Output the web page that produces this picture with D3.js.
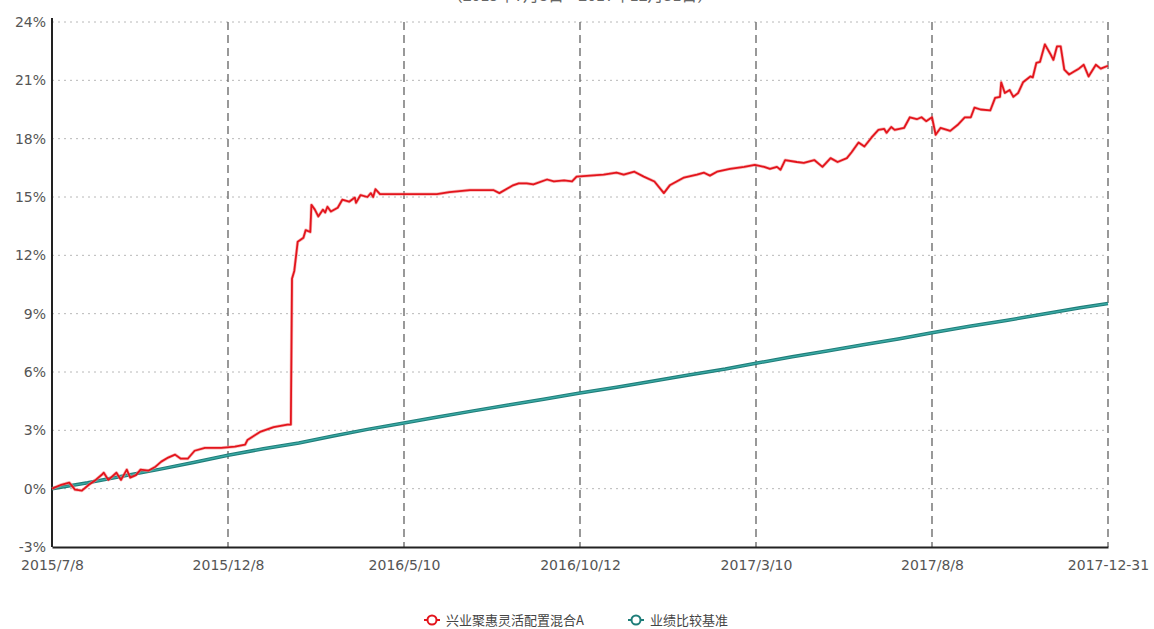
<!DOCTYPE html>
<html><head><meta charset="utf-8">
<script src="https://cdn.jsdelivr.net/npm/d3@7"></script>
<style>
html,body{margin:0;padding:0;background:#fff;}
svg{display:block;}
</style></head>
<body>
<svg id="chart" width="1154" height="629"></svg>
<script>
const titleText = "（2015年7月8日—2017年12月31日）";
const seriesNames = ["兴业聚惠灵活配置混合A", "业绩比较基准"];
const xTickLabels = ["2015/7/8","2015/12/8","2016/5/10","2016/10/12","2017/3/10","2017/8/8","2017-12-31"];
const xTickDates = ["2015-07-08","2015-12-08","2016-05-10","2016-10-12","2017-03-10","2017-08-08","2017-12-31"];
const yTicks = [-3,0,3,6,9,12,15,18,21,24];

const fundSeries = [["2015-07-08",0.0],["2015-07-16",0.2],["2015-07-23",0.31],["2015-07-28",-0.05],["2015-08-03",-0.1],["2015-08-09",0.2],["2015-08-15",0.45],["2015-08-20",0.7],["2015-08-22",0.82],["2015-08-26",0.45],["2015-09-02",0.82],["2015-09-06",0.45],["2015-09-11",0.98],["2015-09-14",0.57],["2015-09-19",0.7],["2015-09-23",0.98],["2015-09-30",0.93],["2015-10-06",1.13],["2015-10-11",1.39],["2015-10-17",1.6],["2015-10-23",1.75],["2015-10-28",1.54],["2015-11-03",1.54],["2015-11-09",1.95],["2015-11-18",2.1],["2015-12-02",2.1],["2015-12-14",2.16],["2015-12-23",2.26],["2015-12-25",2.5],["2016-01-05",2.92],["2016-01-17",3.17],["2016-01-29",3.29],["2016-02-01",3.3],["2016-02-02",10.8],["2016-02-04",11.2],["2016-02-07",12.7],["2016-02-12",12.9],["2016-02-14",13.3],["2016-02-18",13.2],["2016-02-19",14.6],["2016-02-22",14.35],["2016-02-25",14.0],["2016-02-29",14.35],["2016-03-02",14.2],["2016-03-04",14.5],["2016-03-07",14.25],["2016-03-13",14.45],["2016-03-17",14.86],["2016-03-23",14.76],["2016-03-28",14.97],["2016-03-29",14.7],["2016-04-02",15.1],["2016-04-08",15.0],["2016-04-11",15.2],["2016-04-13",15.0],["2016-04-15",15.4],["2016-04-19",15.15],["2016-05-10",15.15],["2016-06-08",15.15],["2016-06-19",15.25],["2016-07-07",15.35],["2016-07-28",15.35],["2016-08-02",15.2],["2016-08-14",15.6],["2016-08-19",15.7],["2016-08-26",15.7],["2016-09-01",15.65],["2016-09-13",15.9],["2016-09-19",15.8],["2016-09-28",15.85],["2016-10-05",15.8],["2016-10-09",16.05],["2016-11-01",16.15],["2016-11-12",16.25],["2016-11-18",16.15],["2016-11-27",16.3],["2016-12-05",16.05],["2016-12-14",15.8],["2016-12-22",15.2],["2016-12-27",15.6],["2017-01-08",16.0],["2017-01-19",16.15],["2017-01-25",16.25],["2017-01-30",16.1],["2017-02-05",16.3],["2017-02-16",16.45],["2017-02-28",16.55],["2017-03-09",16.65],["2017-03-17",16.55],["2017-03-22",16.45],["2017-03-28",16.55],["2017-03-31",16.4],["2017-04-04",16.9],["2017-04-14",16.8],["2017-04-20",16.75],["2017-04-29",16.9],["2017-05-06",16.55],["2017-05-13",17.0],["2017-05-19",16.8],["2017-05-27",17.0],["2017-05-31",17.3],["2017-06-06",17.8],["2017-06-11",17.6],["2017-06-17",18.05],["2017-06-23",18.45],["2017-06-28",18.5],["2017-06-30",18.3],["2017-07-04",18.6],["2017-07-07",18.45],["2017-07-15",18.55],["2017-07-20",19.1],["2017-07-26",19.0],["2017-07-30",19.1],["2017-08-03",18.9],["2017-08-08",19.1],["2017-08-11",18.2],["2017-08-15",18.55],["2017-08-23",18.4],["2017-08-29",18.7],["2017-09-04",19.1],["2017-09-09",19.1],["2017-09-12",19.6],["2017-09-17",19.5],["2017-09-25",19.45],["2017-09-29",20.1],["2017-10-03",20.15],["2017-10-04",20.9],["2017-10-07",20.35],["2017-10-11",20.5],["2017-10-14",20.15],["2017-10-18",20.35],["2017-10-22",20.9],["2017-10-28",21.2],["2017-10-30",21.15],["2017-11-02",21.9],["2017-11-05",21.95],["2017-11-09",22.85],["2017-11-14",22.3],["2017-11-16",22.05],["2017-11-19",22.75],["2017-11-22",22.75],["2017-11-25",21.55],["2017-11-29",21.3],["2017-12-03",21.45],["2017-12-07",21.6],["2017-12-11",21.8],["2017-12-15",21.2],["2017-12-21",21.8],["2017-12-25",21.6],["2017-12-31",21.75]];

const benchSeries = [["2015-07-08",0.0],["2015-08-08",0.3],["2015-09-08",0.65],["2015-10-08",0.98],["2015-11-08",1.35],["2015-12-08",1.72],["2016-01-08",2.05],["2016-02-08",2.35],["2016-03-08",2.7],["2016-04-08",3.05],["2016-05-10",3.38],["2016-06-10",3.7],["2016-07-10",4.0],["2016-08-10",4.3],["2016-09-10",4.6],["2016-10-12",4.92],["2016-11-12",5.22],["2016-12-12",5.52],["2017-01-12",5.85],["2017-02-12",6.15],["2017-03-10",6.45],["2017-04-10",6.78],["2017-05-10",7.08],["2017-06-10",7.4],["2017-07-10",7.7],["2017-08-08",8.02],["2017-09-08",8.35],["2017-10-08",8.65],["2017-11-08",8.98],["2017-12-08",9.3],["2017-12-31",9.52]];

const colors = {fund:"#e3141c", benchOuter:"#1f7d79", benchInner:"#3aaaa5"};

const parse = d3.timeParse("%Y-%m-%d");
const M = {left: 52, right: 1108, top: 22, bottom: 547};
const tickDates = xTickDates.map(parse);
const x = d3.scaleTime()
  .domain(tickDates)
  .range(tickDates.map((d,i) => M.left + i*(M.right-M.left)/(tickDates.length-1)));
const y = d3.scaleLinear().domain([-3,24]).range([M.bottom, M.top]);

const svg = d3.select("#chart");
svg.append("rect").attr("width",1154).attr("height",629).attr("fill","#fff");

// partially visible title
svg.append("text").attr("x",580).attr("y",1).attr("text-anchor","middle")
  .attr("font-family","'Noto Sans CJK SC', sans-serif").attr("font-size",16).attr("fill","#666")
  .text(titleText);

// horizontal dotted grid
svg.append("g").selectAll("line").data(yTicks.filter(t=>t>-3)).join("line")
  .attr("x1",M.left).attr("x2",M.right).attr("y1",d=>y(d)).attr("y2",d=>y(d))
  .attr("stroke","#b8b8b8").attr("stroke-width",1).attr("stroke-dasharray","2,4");

// vertical dashed grid
svg.append("g").selectAll("line").data(tickDates.slice(1)).join("line")
  .attr("x1",d=>x(d)).attr("x2",d=>x(d)).attr("y1",M.top).attr("y2",M.bottom)
  .attr("stroke","#555").attr("stroke-width",1.2).attr("stroke-dasharray","8,5");

// axes
const yAxis = d3.axisLeft(y).tickValues(yTicks).tickFormat(d=>d+"%").tickSize(0).tickPadding(6);
const gy = svg.append("g").attr("transform",`translate(${M.left},0)`).call(yAxis);
gy.select(".domain").attr("stroke","#222").attr("stroke-width",2).attr("d",`M0,${M.top-4}V${M.bottom}`);
gy.selectAll("text").attr("font-family","'DejaVu Sans', Verdana, sans-serif").attr("font-size",14).attr("fill","#555");

const xAxis = d3.axisBottom(x).tickValues(tickDates).tickFormat((d,i)=>xTickLabels[i]).tickSize(0).tickPadding(13);
const gx = svg.append("g").attr("transform",`translate(0,${M.bottom})`).call(xAxis);
gx.select(".domain").attr("stroke","#222").attr("stroke-width",2);
gx.selectAll("text").attr("font-family","'DejaVu Sans', Verdana, sans-serif").attr("font-size",14).attr("fill","#555");

// lines
const line = d3.line().x(d=>x(parse(d[0]))).y(d=>y(d[1]));
svg.append("path").datum(benchSeries).attr("d",line).attr("fill","none")
  .attr("stroke",colors.benchOuter).attr("stroke-width",3.5);
svg.append("path").datum(benchSeries).attr("d",line).attr("fill","none")
  .attr("stroke",colors.benchInner).attr("stroke-width",1.4);
svg.append("path").datum(fundSeries).attr("d",line).attr("fill","none")
  .attr("stroke","#f28a8a").attr("stroke-width",3.2).attr("stroke-linejoin","round").attr("opacity",0.6);
svg.append("path").datum(fundSeries).attr("d",line).attr("fill","none")
  .attr("stroke",colors.fund).attr("stroke-width",1.8).attr("stroke-linejoin","round");

// legend
const legend = [
  {name: seriesNames[0], color: colors.fund, x: 424},
  {name: seriesNames[1], color: colors.benchOuter, x: 628}
];
const lg = svg.append("g").selectAll("g").data(legend).join("g")
  .attr("transform",d=>`translate(${d.x},620)`);
lg.append("line").attr("x1",0).attr("x2",16).attr("y1",0).attr("y2",0)
  .attr("stroke",d=>d.color).attr("stroke-width",2);
lg.append("circle").attr("cx",8).attr("cy",0).attr("r",4.5).attr("fill","#fff")
  .attr("stroke",d=>d.color).attr("stroke-width",2);
lg.append("text").attr("x",22).attr("y",5).attr("font-family","'Noto Sans CJK SC', sans-serif")
  .attr("font-size",13).attr("fill","#444").text(d=>d.name);
</script>
</body></html>
